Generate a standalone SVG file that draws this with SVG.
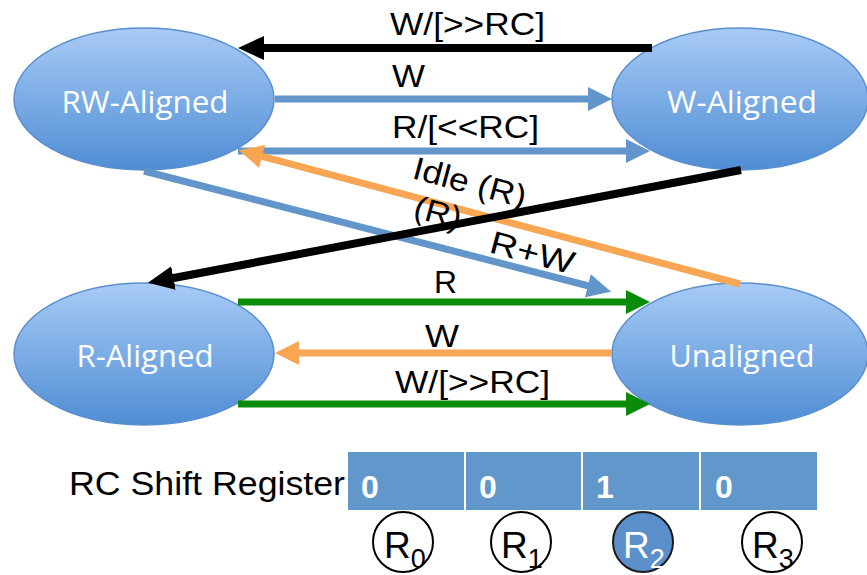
<svg xmlns="http://www.w3.org/2000/svg" width="867" height="575" viewBox="0 0 867 575">
<style>
.node{fill:url(#ng);stroke:#5a8fcc;stroke-width:1.5}
.nl{font-family:"Open Sans","Liberation Sans",sans-serif;font-size:31px;fill:#fff;text-anchor:middle}
.lb{font-family:"Liberation Sans",Arial,sans-serif;font-size:32px;fill:#000}
.bk{stroke:#000;stroke-width:8;fill:none}
.bl{stroke:#6296cb;stroke-width:7;fill:none}
.or{stroke:#f8a653;stroke-width:7;fill:none}
.gr{stroke:#0a8c0a;stroke-width:7;fill:none}
.dg{font-family:"Liberation Sans",Arial,sans-serif;font-size:32px;font-weight:bold;fill:#fff}
.rc{font-family:"Liberation Sans",Arial,sans-serif;font-size:34px;fill:#000}
.rr{font-family:"Liberation Sans",Arial,sans-serif;font-size:37px;fill:#000}
.rs{font-size:27px}
</style>
<defs>
<linearGradient id="ng" x1="0" y1="0" x2="0" y2="1">
<stop offset="0" stop-color="#a8cbf6"/>
<stop offset="1" stop-color="#4f8dd4"/>
</linearGradient>
<marker id="aBk" markerUnits="userSpaceOnUse" viewBox="0 -12 26 24" refX="1" refY="0" markerWidth="26" markerHeight="24" orient="auto"><path d="M0,-12 L26,0 L0,12 z" fill="#000"/></marker>
<marker id="aBl" markerUnits="userSpaceOnUse" viewBox="0 -12 24 24" refX="1" refY="0" markerWidth="24" markerHeight="24" orient="auto"><path d="M0,-12 L24,0 L0,12 z" fill="#6296cb"/></marker>
<marker id="aOr" markerUnits="userSpaceOnUse" viewBox="0 -12 24 24" refX="1" refY="0" markerWidth="24" markerHeight="24" orient="auto"><path d="M0,-12 L24,0 L0,12 z" fill="#f8a653"/></marker>
<marker id="aGr" markerUnits="userSpaceOnUse" viewBox="0 -12 24 24" refX="1" refY="0" markerWidth="24" markerHeight="24" orient="auto"><path d="M0,-12 L24,0 L0,12 z" fill="#0a8c0a"/></marker>
</defs>
<rect width="867" height="575" fill="#fff"/>

<g id="node-rw"><ellipse class="node" cx="144" cy="99" rx="130" ry="71"/><text class="nl" x="145" y="113" textLength="167" lengthAdjust="spacingAndGlyphs">RW-Aligned</text></g>
<g id="node-w"><ellipse class="node" cx="740" cy="99" rx="128" ry="71"/><text class="nl" x="742" y="113" textLength="150" lengthAdjust="spacingAndGlyphs">W-Aligned</text></g>
<g id="node-r"><ellipse class="node" cx="144" cy="354" rx="130" ry="71"/><text class="nl" x="145" y="367" textLength="137" lengthAdjust="spacingAndGlyphs">R-Aligned</text></g>
<g id="node-u"><ellipse class="node" cx="740" cy="354" rx="128" ry="71"/><text class="nl" x="742" y="367" textLength="145" lengthAdjust="spacingAndGlyphs">Unaligned</text></g>

<g id="connectors">
<line class="bl" x1="275" y1="99" x2="589" y2="99" marker-end="url(#aBl)"/>
<line class="bl" x1="238" y1="151" x2="627" y2="151" marker-end="url(#aBl)"/>
<line class="bl" x1="144" y1="171" x2="588.8" y2="286" marker-end="url(#aBl)"/>
<line class="or" x1="740" y1="284" x2="261.2" y2="156.2" marker-end="url(#aOr)"/>
<line class="bk" x1="652" y1="48" x2="263" y2="48" marker-end="url(#aBk)"/>
<line class="bk" x1="741" y1="170" x2="172.5" y2="278.2" marker-end="url(#aBk)"/>
<line class="gr" x1="238" y1="302" x2="627" y2="302" marker-end="url(#aGr)"/>
<line class="or" x1="612" y1="353" x2="298" y2="353" marker-end="url(#aOr)"/>
<line class="gr" x1="238" y1="404" x2="627" y2="404" marker-end="url(#aGr)"/>
</g>

<g id="labels">
<text class="lb" x="390" y="35" textLength="155" lengthAdjust="spacingAndGlyphs">W/[&gt;&gt;RC]</text>
<text class="lb" x="392" y="87" textLength="33" lengthAdjust="spacingAndGlyphs">W</text>
<text class="lb" x="392" y="138" textLength="147" lengthAdjust="spacingAndGlyphs">R/[&lt;&lt;RC]</text>
<text class="lb" transform="translate(411,178) rotate(15)" x="0" y="0" textLength="116" lengthAdjust="spacingAndGlyphs">Idle (R)</text>
<text class="lb" transform="translate(412,217) rotate(15)" x="0" y="0" textLength="48" lengthAdjust="spacingAndGlyphs">(R)</text>
<text class="lb" transform="translate(488,252) rotate(15)" x="0" y="0" textLength="86" lengthAdjust="spacingAndGlyphs">R+W</text>
<text class="lb" x="434" y="293" textLength="23" lengthAdjust="spacingAndGlyphs">R</text>
<text class="lb" x="425" y="347" textLength="34" lengthAdjust="spacingAndGlyphs">W</text>
<text class="lb" x="395" y="393" textLength="155" lengthAdjust="spacingAndGlyphs">W/[&gt;&gt;RC]</text>
</g>

<g id="register">
<text class="rc" x="69" y="495" textLength="276" lengthAdjust="spacingAndGlyphs">RC Shift Register</text>
<rect x="348" y="452" width="469" height="58" fill="#6197cb"/>
<line x1="465" y1="452" x2="465" y2="510" stroke="#fff" stroke-width="2"/>
<line x1="582" y1="452" x2="582" y2="510" stroke="#fff" stroke-width="2"/>
<line x1="700" y1="452" x2="700" y2="510" stroke="#fff" stroke-width="2"/>
<text class="dg" x="361" y="498">0</text>
<text class="dg" x="479" y="498">0</text>
<text class="dg" x="596" y="498">1</text>
<text class="dg" x="715" y="498">0</text>
</g>

<g id="r0"><ellipse cx="403" cy="542" rx="30" ry="30" fill="#fff" stroke="#000" stroke-width="2"/><text class="rr" x="384" y="558">R<tspan class="rs" dy="10">0</tspan></text></g>
<g id="r1"><ellipse cx="521" cy="542" rx="30" ry="30" fill="#fff" stroke="#000" stroke-width="2"/><text class="rr" x="501" y="558">R<tspan class="rs" dy="10">1</tspan></text></g>
<g id="r2"><ellipse cx="643" cy="542" rx="30" ry="30" fill="#5b8fc9" stroke="#1a1a1a" stroke-width="2"/><text class="rr" x="623" y="558" style="fill:#fff">R<tspan class="rs" dy="10">2</tspan></text></g>
<g id="r3"><ellipse cx="772" cy="542" rx="30" ry="30" fill="#fff" stroke="#000" stroke-width="2"/><text class="rr" x="752" y="558">R<tspan class="rs" dy="10">3</tspan></text></g>
</svg>
